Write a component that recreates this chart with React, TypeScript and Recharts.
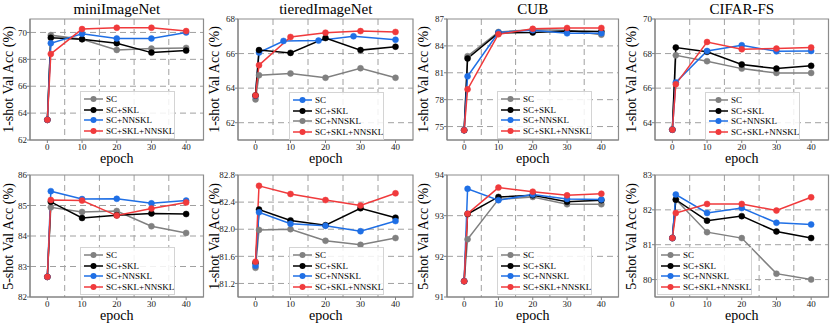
import React from "react";
import { LineChart, Line, XAxis, YAxis, CartesianGrid, ReferenceArea } from "recharts";

// epochs at which the validation accuracy was logged
const EPOCHS = [0, 1, 10, 20, 30, 40];
const EPOCHS_TIERED_SC = [0, 1, 8, 18, 28, 40];
const X_TICKS = [0, 10, 20, 30, 40];
const X_GRID = [5, 15, 25, 35];

const GRAY = "#808080";
const BLACK = "#000000";
const BLUE = "#1f6fe5";
const RED = "#f03a3c";

// 1-shot
const MINI1_SC = [63.5, 69.8, 69.5, 68.7, 68.8, 68.85];
const MINI1_SKL = [63.5, 69.6, 69.5, 69.2, 68.5, 68.65];
const MINI1_NNSKL = [63.5, 69.2, 69.9, 69.55, 69.55, 70.0];
const MINI1_ALL = [63.5, 68.4, 70.25, 70.35, 70.35, 70.1];

const TIERED1_SC = [63.55, 66.06, 66.73, 66.75, 67.0, 66.8];
const TIERED1_SKL = [63.58, 66.2, 66.04, 66.9, 66.2, 66.4];
const TIERED1_NNSKL = [63.35, 64.75, 64.85, 64.6, 65.15, 64.6];
const TIERED1_ALL = [63.58, 65.33, 66.96, 67.21, 67.3, 67.25];

const CUB1_SC = [74.6, 82.85, 85.55, 85.8, 85.75, 85.25];
const CUB1_SKL = [74.6, 82.6, 85.45, 85.5, 85.65, 85.6];
const CUB1_NNSKL = [74.6, 80.6, 85.5, 85.75, 85.4, 85.4];
const CUB1_ALL = [74.6, 79.15, 85.3, 85.9, 86.0, 86.0];

const CIFAR1_SC = [63.6, 67.9, 67.56, 67.13, 66.88, 66.88];
const CIFAR1_SKL = [63.6, 68.35, 68.1, 67.37, 67.13, 67.29];
const CIFAR1_NNSKL = [63.6, 66.33, 68.15, 68.48, 68.13, 68.15];
const CIFAR1_ALL = [63.6, 66.23, 68.67, 68.25, 68.29, 68.35];

// 5-shot
const MINI5_SC = [82.66, 84.94, 84.79, 84.82, 84.32, 84.1];
const MINI5_SKL = [82.66, 85.12, 84.59, 84.68, 84.74, 84.72];
const MINI5_NNSKL = [82.66, 85.47, 85.21, 85.22, 85.07, 85.16];
const MINI5_ALL = [82.66, 85.18, 85.16, 84.67, 84.9, 85.1];

const TIERED5_SC = [81.43, 81.99, 82.0, 81.83, 81.77, 81.87];
const TIERED5_SKL = [81.5, 82.29, 82.13, 82.06, 82.31, 82.17];
const TIERED5_NNSKL = [81.46, 82.25, 82.08, 82.05, 81.97, 82.12];
const TIERED5_ALL = [81.52, 82.64, 82.52, 82.43, 82.35, 82.53];

const CUB5_SC = [91.39, 92.42, 93.4, 93.46, 93.28, 93.28];
const CUB5_SKL = [91.39, 93.04, 93.46, 93.5, 93.34, 93.38];
const CUB5_NNSKL = [91.39, 93.66, 93.38, 93.52, 93.41, 93.4];
const CUB5_ALL = [91.39, 93.05, 93.69, 93.59, 93.5, 93.54];

const CIFAR5_SC = [81.19, 82.3, 81.36, 81.19, 80.17, 80.0];
const CIFAR5_SKL = [81.19, 82.29, 81.69, 81.82, 81.38, 81.19];
const CIFAR5_NNSKL = [81.19, 82.44, 81.91, 82.05, 81.63, 81.58];
const CIFAR5_ALL = [81.19, 81.91, 82.17, 82.17, 81.98, 82.36];

type Series = { name: string; color: string; xs: number[]; ys: number[] };

const std = (sc: number[], skl: number[], nn: number[], all: number[]): Series[] => [
  { name: "SC", color: GRAY, xs: EPOCHS, ys: sc },
  { name: "SC+SKL", color: BLACK, xs: EPOCHS, ys: skl },
  { name: "SC+NNSKL", color: BLUE, xs: EPOCHS, ys: nn },
  { name: "SC+SKL+NNSKL", color: RED, xs: EPOCHS, ys: all },
];

interface PanelCfg {
  title?: string;
  yLabel: string;
  plotLeft: number;
  plotRight: number;
  plotTop: number;
  plotBottom: number;
  domain: [number, number];
  ticks: number[];
  decimals: number;
  series: Series[];
  legendPos: [number, number];
  drawOrder?: number[];
}

const COLS = [
  [30, 203.5],
  [238.3, 413.3],
  [447, 618.5],
  [655, 828.5],
];
const ROWS = [
  [19, 140],
  [175, 297],
];

const PANELS: PanelCfg[] = [
  {
    title: "miniImageNet", yLabel: "1-shot Val Acc (%)",
    plotLeft: COLS[0][0], plotRight: COLS[0][1], plotTop: ROWS[0][0], plotBottom: ROWS[0][1],
    domain: [62, 71], ticks: [62, 64, 66, 68, 70], decimals: 0,
    series: std(MINI1_SC, MINI1_SKL, MINI1_NNSKL, MINI1_ALL), legendPos: [80, 91],
  },
  {
    title: "tieredImageNet", yLabel: "1-shot Val Acc (%)",
    plotLeft: COLS[1][0], plotRight: COLS[1][1], plotTop: ROWS[0][0], plotBottom: ROWS[0][1],
    domain: [61, 68], ticks: [62, 64, 66, 68], decimals: 0,
    series: [
      { name: "SC", color: BLUE, xs: EPOCHS_TIERED_SC, ys: TIERED1_SC },
      { name: "SC+SKL", color: BLACK, xs: EPOCHS, ys: TIERED1_SKL },
      { name: "SC+NNSKL", color: GRAY, xs: EPOCHS, ys: TIERED1_NNSKL },
      { name: "SC+SKL+NNSKL", color: RED, xs: EPOCHS, ys: TIERED1_ALL },
    ],
    legendPos: [289, 92], drawOrder: [2, 0, 1, 3],
  },
  {
    title: "CUB", yLabel: "1-shot Val Acc (%)",
    plotLeft: COLS[2][0], plotRight: COLS[2][1], plotTop: ROWS[0][0], plotBottom: ROWS[0][1],
    domain: [73.5, 87], ticks: [75, 78, 81, 84, 87], decimals: 0,
    series: std(CUB1_SC, CUB1_SKL, CUB1_NNSKL, CUB1_ALL), legendPos: [497, 91],
  },
  {
    title: "CIFAR-FS", yLabel: "1-shot Val Acc (%)",
    plotLeft: COLS[3][0], plotRight: COLS[3][1], plotTop: ROWS[0][0], plotBottom: ROWS[0][1],
    domain: [63, 70], ticks: [64, 66, 68, 70], decimals: 0,
    series: std(CIFAR1_SC, CIFAR1_SKL, CIFAR1_NNSKL, CIFAR1_ALL), legendPos: [705, 92],
  },
  {
    yLabel: "5-shot Val Acc (%)",
    plotLeft: COLS[0][0], plotRight: COLS[0][1], plotTop: ROWS[1][0], plotBottom: ROWS[1][1],
    domain: [82, 86], ticks: [82, 83, 84, 85, 86], decimals: 0,
    series: std(MINI5_SC, MINI5_SKL, MINI5_NNSKL, MINI5_ALL), legendPos: [80, 247],
  },
  {
    yLabel: "1-shot Val Acc (%)",
    plotLeft: COLS[1][0], plotRight: COLS[1][1], plotTop: ROWS[1][0], plotBottom: ROWS[1][1],
    domain: [81.0, 82.8], ticks: [81.2, 81.6, 82.0, 82.4, 82.8], decimals: 1,
    series: std(TIERED5_SC, TIERED5_SKL, TIERED5_NNSKL, TIERED5_ALL), legendPos: [289, 247],
  },
  {
    yLabel: "5-shot Val Acc (%)",
    plotLeft: COLS[2][0], plotRight: COLS[2][1], plotTop: ROWS[1][0], plotBottom: ROWS[1][1],
    domain: [91, 94], ticks: [91, 92, 93, 94], decimals: 0,
    series: std(CUB5_SC, CUB5_SKL, CUB5_NNSKL, CUB5_ALL), legendPos: [497, 247],
  },
  {
    yLabel: "5-shot Val Acc (%)",
    plotLeft: COLS[3][0], plotRight: COLS[3][1], plotTop: ROWS[1][0], plotBottom: ROWS[1][1],
    domain: [79.5, 83], ticks: [80, 81, 82, 83], decimals: 0,
    series: std(CIFAR5_SC, CIFAR5_SKL, CIFAR5_NNSKL, CIFAR5_ALL), legendPos: [657, 247],
  },
];

const FONT = "'Liberation Serif', 'Times New Roman', Times, serif";
const Y_AXIS_W = 26;
const X_AXIS_H = 22;
const TOP_PAD = 6;

const Legend: React.FC<{ series: Series[]; left: number; top: number }> = ({ series, left, top }) => (
  <div
    style={{
      position: "absolute", left, top, width: 95, padding: "2px 2px 2px 3px",
      border: "1px solid #d4d4d4", background: "rgba(255,255,255,0.85)",
      fontFamily: FONT, fontSize: 9, lineHeight: "10.5px", boxSizing: "border-box",
      color: "#000",
    }}
  >
    {series.map((s) => (
      <div key={s.name} style={{ display: "flex", alignItems: "center", height: 10.5, whiteSpace: "nowrap" }}>
        <svg width={19} height={8} style={{ marginRight: 3, flexShrink: 0 }}>
          <line x1={0} y1={4} x2={19} y2={4} stroke={s.color} strokeWidth={1.5} />
          <circle cx={9.5} cy={4} r={3} fill={s.color} />
        </svg>
        <span>{s.name}</span>
      </div>
    ))}
  </div>
);

const Panel: React.FC<{ cfg: PanelCfg }> = ({ cfg }) => {
  const plotW = cfg.plotRight - cfg.plotLeft;
  const plotH = cfg.plotBottom - cfg.plotTop;
  const width = Y_AXIS_W + plotW + 1;
  const height = TOP_PAD + plotH + X_AXIS_H;
  const order = cfg.drawOrder ?? [0, 1, 2, 3];
  const yGrid = cfg.ticks.filter((t) => t > cfg.domain[0] && t < cfg.domain[1]);
  const cx = cfg.plotLeft + plotW / 2;
  const labelX = Math.max(cfg.plotLeft - 24, 7.5);
  return (
    <>
      <div style={{ position: "absolute", left: cfg.plotLeft - Y_AXIS_W, top: cfg.plotTop - TOP_PAD }}>
        <LineChart width={width} height={height} margin={{ top: TOP_PAD, right: 1, left: 0, bottom: 0 }}>
          <CartesianGrid
            horizontalValues={yGrid}
            verticalValues={X_GRID}
            stroke="#a0a0a0"
            strokeDasharray="6 4"
            strokeWidth={1}
          />
          <XAxis
            dataKey="x" type="number" domain={[-5, 45]} ticks={X_TICKS} height={X_AXIS_H}
            allowDataOverflow tickSize={3} tickMargin={1}
            stroke="#808080" tick={{ fill: "#222", fontSize: 9, fontFamily: FONT }}
          />
          <YAxis
            type="number" domain={cfg.domain} ticks={cfg.ticks} width={Y_AXIS_W} allowDataOverflow
            tickSize={3} tickMargin={0} stroke="#808080"
            tick={{ fill: "#222", fontSize: 9, fontFamily: FONT }}
            tickFormatter={(v: number) => v.toFixed(cfg.decimals)}
          />
          <ReferenceArea
            x1={-5} x2={45} y1={cfg.domain[0]} y2={cfg.domain[1]}
            fill="none" stroke="#8c8c8c" strokeWidth={1.2} fillOpacity={0}
          />
          {order.map((i) => {
            const s = cfg.series[i];
            return (
              <Line
                key={s.name}
                data={s.xs.map((x, k) => ({ x, y: s.ys[k] }))}
                dataKey="y"
                name={s.name}
                stroke={s.color}
                strokeWidth={1.5}
                dot={{ r: 3, fill: s.color, stroke: s.color, strokeWidth: 0.5 }}
                activeDot={false}
                isAnimationActive={false}
              />
            );
          })}
        </LineChart>
      </div>
      {cfg.title && (
        <div
          style={{
            position: "absolute", left: cx - 80, width: 160, top: 1, textAlign: "center",
            fontFamily: FONT, fontSize: 15, lineHeight: "17px", color: "#000",
          }}
        >
          {cfg.title}
        </div>
      )}
      <div
        style={{
          position: "absolute", left: labelX - 70, top: cfg.plotTop + plotH / 2 - 5.5,
          width: 140, height: 11, textAlign: "center", transform: "rotate(-90deg)",
          fontFamily: FONT, fontSize: 14, lineHeight: "11px", color: "#000", whiteSpace: "nowrap",
        }}
      >
        {cfg.yLabel}
      </div>
      <div
        style={{
          position: "absolute", left: cx - 30, width: 60, top: cfg.plotBottom + 12,
          textAlign: "center", fontFamily: FONT, fontSize: 14, lineHeight: "13px", color: "#000",
        }}
      >
        epoch
      </div>
      <Legend series={cfg.series} left={cfg.legendPos[0]} top={cfg.legendPos[1]} />
    </>
  );
};

export default function App() {
  return (
    <div style={{ position: "absolute", left: 0, top: 0, width: 830, height: 325, background: "#fff", overflow: "hidden" }}>
      {PANELS.map((p, i) => (
        <Panel key={i} cfg={p} />
      ))}
    </div>
  );
}
